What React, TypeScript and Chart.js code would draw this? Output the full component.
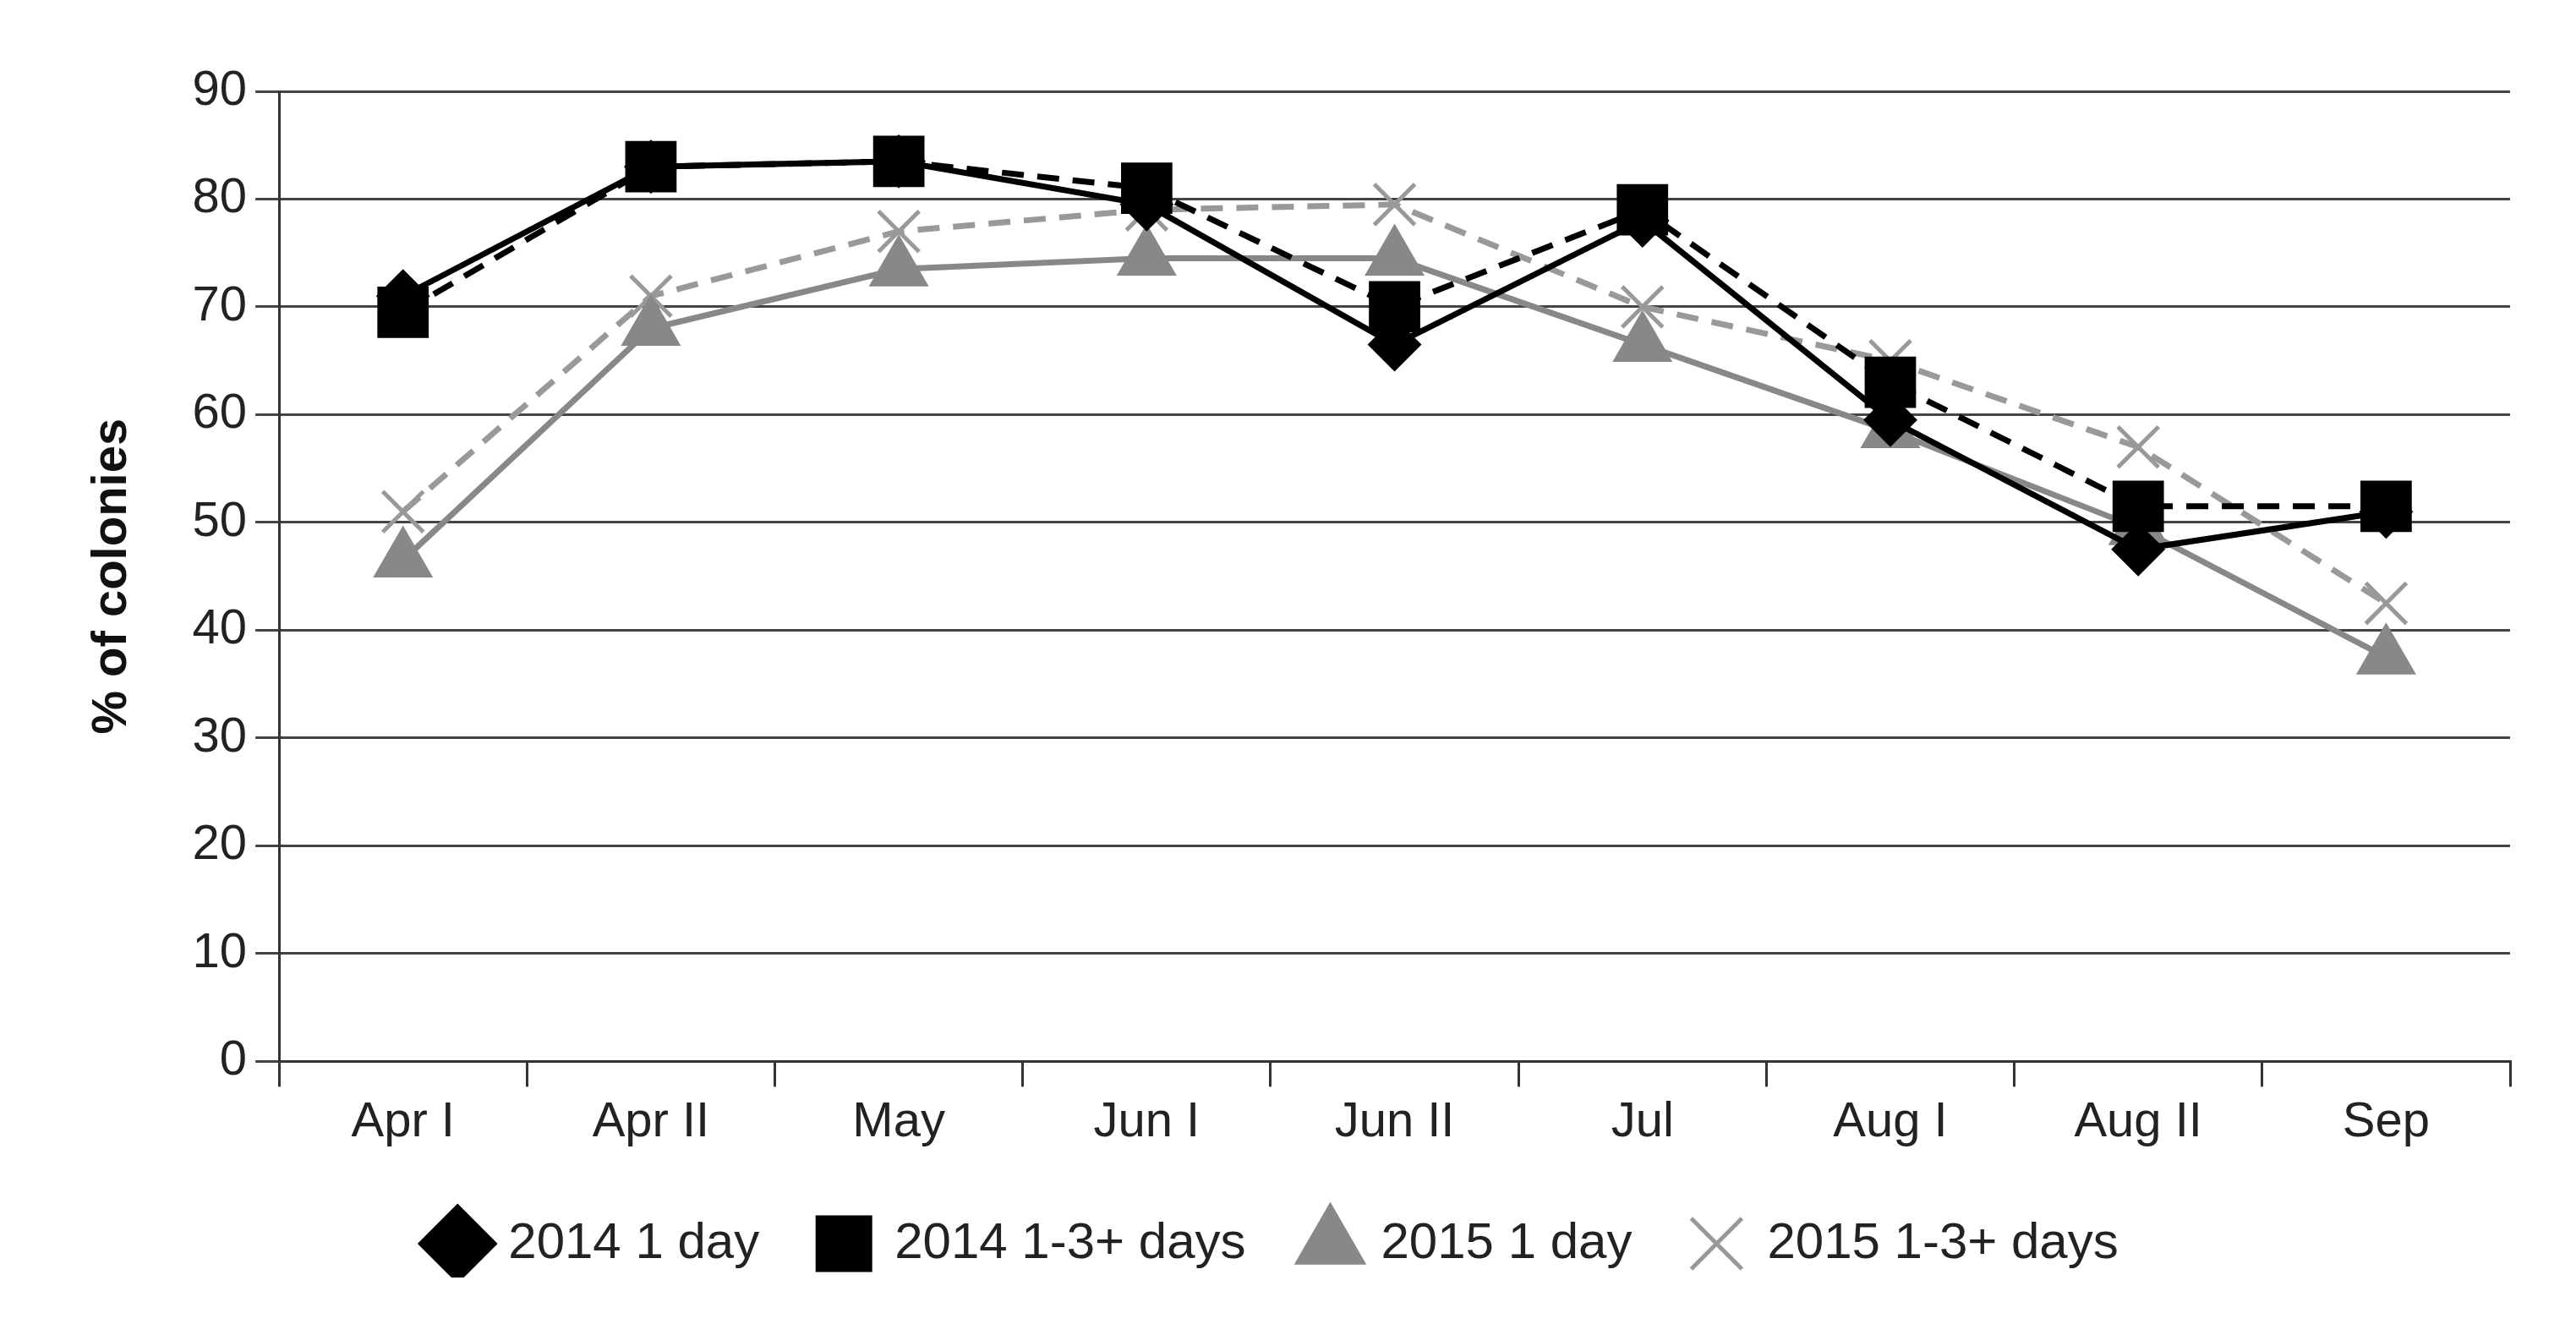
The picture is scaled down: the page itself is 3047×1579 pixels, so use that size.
import React, { useEffect, useRef } from "react";
import { Chart, registerables } from "chart.js";
Chart.register(...registerables);

const categories = ["Apr I", "Apr II", "May", "Jun I", "Jun II", "Jul", "Aug I", "Aug II", "Sep"];
const s2014_1 = [71, 83, 83.5, 79.5, 66.5, 78, 59.5, 47.5, 51];
const s2014_13 = [69.5, 83, 83.5, 81, 70, 79, 63, 51.5, 51.5];
const s2015_1 = [46.5, 68, 73.5, 74.5, 74.5, 66.5, 58.5, 49.5, 37.5];
const s2015_13 = [51, 71, 77, 79, 79.5, 70, 65, 57, 42.5];
const yTicks = [0, 10, 20, 30, 40, 50, 60, 70, 80, 90];

export default function App() {
  const ref = useRef<HTMLCanvasElement>(null);
  useEffect(() => {
    const font = "'Liberation Sans', Arial, sans-serif";
    const ch = new Chart(ref.current!, {
      type: "line",
      data: {
        labels: categories,
        datasets: [
          { label: "2014 1 day", data: s2014_1, borderColor: "#000", backgroundColor: "#000", borderWidth: 7, pointStyle: "rectRot", pointRadius: 27 },
          { label: "2014 1-3+ days", data: s2014_13, borderColor: "#000", backgroundColor: "#000", borderWidth: 7, borderDash: [26, 16], pointStyle: "rect", pointRadius: 38 },
          { label: "2015 1 day", data: s2015_1, borderColor: "#888", backgroundColor: "#888", borderWidth: 7, pointStyle: "triangle", pointRadius: 34 },
          { label: "2015 1-3+ days", data: s2015_13, borderColor: "#999", backgroundColor: "#999", borderWidth: 7, borderDash: [26, 16], pointStyle: "crossRot", pointRadius: 34, pointBorderWidth: 5 },
        ],
      },
      options: {
        animation: false,
        responsive: true,
        maintainAspectRatio: false,
        layout: { padding: { left: 40, right: 70, top: 100, bottom: 60 } },
        plugins: {
          tooltip: { enabled: false },
          legend: {
            position: "bottom",
            labels: { usePointStyle: true, font: { family: font, size: 60 }, color: "#222", padding: 70, boxWidth: 60 },
          },
        },
        scales: {
          x: {
            offset: true,
            grid: { offset: true, drawOnChartArea: false, tickLength: 30, color: "#333", lineWidth: 3 },
            border: { color: "#333", width: 3 },
            ticks: { font: { family: font, size: 58 }, color: "#222", padding: 8 },
          },
          y: {
            min: 0, max: 90,
            afterBuildTicks: (ax: any) => { ax.ticks = yTicks.map((v) => ({ value: v })); },
            grid: { color: "#444", lineWidth: 3, tickLength: 28 },
            border: { color: "#333", width: 3 },
            ticks: { font: { family: font, size: 58 }, color: "#222", padding: 10 },
            title: { display: true, text: "% of colonies", font: { family: font, size: 58, weight: "bold" }, color: "#111", padding: 50 },
          },
        },
      },
    } as any);
    return () => ch.destroy();
  }, []);
  return (
    <div style={{ width: 3031, height: 1563, background: "#fff" }}>
      <canvas ref={ref} />
    </div>
  );
}
